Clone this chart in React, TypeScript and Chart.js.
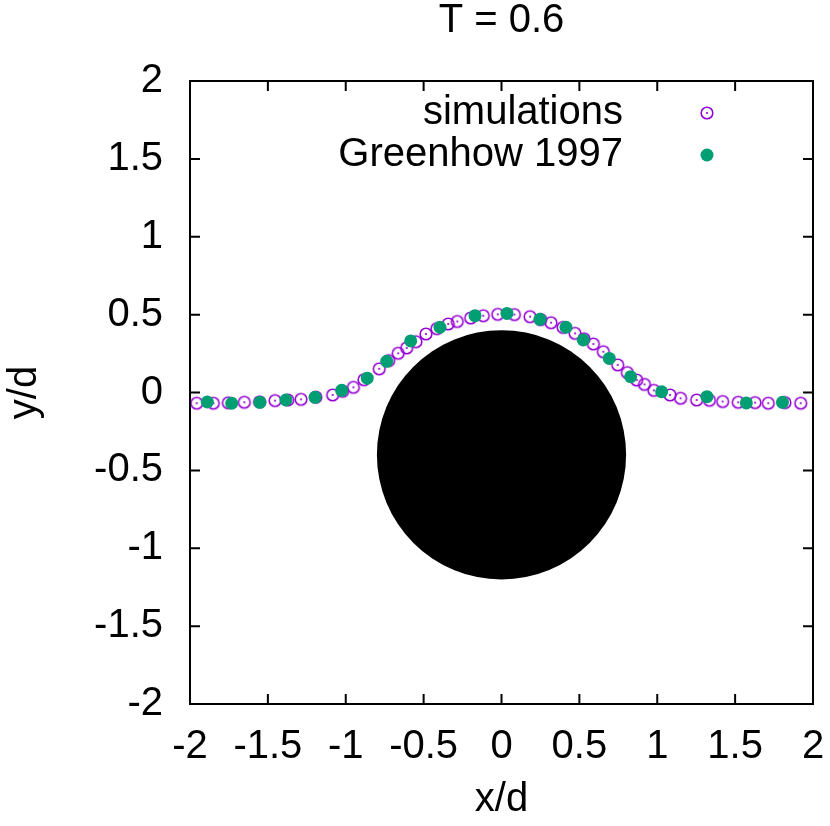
import { useEffect, useRef } from 'react';
import { Chart, registerables } from 'chart.js';

// Register Chart.js components
Chart.register(...registerables);

// Simulated interface (open circles)
const simX = [
  -1.957, -1.85, -1.754, -1.651, -1.553, -1.454, -1.372, -1.287, -1.192, -1.084,
  -1.02, -0.951, -0.883, -0.785, -0.724, -0.663, -0.609, -0.549, -0.485, -0.415,
  -0.342, -0.284, -0.198, -0.117, -0.024, 0.083, 0.183, 0.252, 0.318, 0.395,
  0.472, 0.53, 0.59, 0.654, 0.746, 0.808, 0.868, 0.918, 0.978, 1.082,
  1.15, 1.253, 1.335, 1.42, 1.52, 1.628, 1.713, 1.82, 1.921,
];
const simY = [
  -0.069, -0.069, -0.066, -0.063, -0.06, -0.052, -0.048, -0.044, -0.03, -0.016,
  0.008, 0.033, 0.082, 0.152, 0.205, 0.252, 0.286, 0.326, 0.376, 0.41,
  0.44, 0.456, 0.478, 0.493, 0.502, 0.5, 0.487, 0.468, 0.448, 0.418,
  0.38, 0.345, 0.311, 0.262, 0.177, 0.128, 0.08, 0.052, 0.014, -0.016,
  -0.037, -0.048, -0.05, -0.058, -0.063, -0.065, -0.069, -0.065, -0.069,
];

// Greenhow 1997 reference data (filled circles)
const greenhowX = [
  -1.889, -1.732, -1.551, -1.384, -1.197, -1.026, -0.862, -0.737, -0.583, -0.395,
  -0.17, 0.035, 0.247, 0.414, 0.525, 0.692, 0.829, 1.028, 1.319, 1.572, 1.804,
];
const greenhowY = [
  -0.061, -0.069, -0.063, -0.048, -0.031, 0.014, 0.092, 0.2, 0.331, 0.419,
  0.493, 0.508, 0.47, 0.419, 0.337, 0.219, 0.101, 0.005, -0.027, -0.067, -0.063,
];

// Submerged cylinder
const cylinderCenter = [0, -0.4];
const cylinderRadius = 0.8;

const axisMin = -2;
const axisMax = 2;
const tickStep = 0.5;

const plotTitle = 'T = 0.6';

const FONT = '"Liberation Sans", Arial, sans-serif';
const FONT_SIZE = 40;
const SIM_COLOR = '#9400d3';
const GREENHOW_COLOR = '#009e73';

// circle with a dot in the middle, like gnuplot's pt 6
const makeRingPoint = () => {
  const c = document.createElement('canvas');
  c.width = 16;
  c.height = 16;
  const g = c.getContext('2d');
  if (g) {
    g.strokeStyle = SIM_COLOR;
    g.lineWidth = 1.6;
    g.beginPath();
    g.arc(8, 8, 5.8, 0, Math.PI * 2);
    g.stroke();
    g.fillStyle = SIM_COLOR;
    g.beginPath();
    g.arc(8, 8, 1.1, 0, Math.PI * 2);
    g.fill();
  }
  return c;
};

const framePlugin = {
  id: 'gnuplotFrame',
  beforeDatasetsDraw(chart: any) {
    const { ctx, scales } = chart;
    const x = scales.x;
    const y = scales.y;
    const cx = x.getPixelForValue(cylinderCenter[0]);
    const cy = y.getPixelForValue(cylinderCenter[1]);
    const rx = x.getPixelForValue(cylinderCenter[0] + cylinderRadius) - cx;
    const ry = cy - y.getPixelForValue(cylinderCenter[1] + cylinderRadius);
    ctx.save();
    ctx.fillStyle = '#000';
    ctx.beginPath();
    ctx.ellipse(cx, cy, rx, ry, 0, 0, Math.PI * 2);
    ctx.fill();
    ctx.restore();
  },
  afterDraw(chart: any) {
    const { ctx, chartArea, scales } = chart;
    const { left, right, top, bottom } = chartArea;
    const len = 10;
    ctx.save();
    ctx.strokeStyle = '#000';
    ctx.lineWidth = 2;
    ctx.strokeRect(left, top, right - left, bottom - top);
    ctx.beginPath();
    scales.x.ticks.forEach((t: any) => {
      const px = scales.x.getPixelForValue(t.value);
      ctx.moveTo(px, bottom);
      ctx.lineTo(px, bottom - len);
      ctx.moveTo(px, top);
      ctx.lineTo(px, top + len);
    });
    scales.y.ticks.forEach((t: any) => {
      const py = scales.y.getPixelForValue(t.value);
      ctx.moveTo(left, py);
      ctx.lineTo(left + len, py);
      ctx.moveTo(right, py);
      ctx.lineTo(right - len, py);
    });
    ctx.stroke();

    ctx.font = `${FONT_SIZE}px ${FONT}`;
    ctx.fillStyle = '#000';
    ctx.textBaseline = 'middle';

    // title centred over the plot frame
    ctx.textAlign = 'center';
    ctx.fillText(plotTitle, (left + right) / 2, 21);

    // legend, top right inside the frame
    ctx.textAlign = 'right';
    chart.data.datasets.forEach((ds: any, i: number) => {
      const ty = top + 32 + i * 42;
      ctx.fillStyle = '#000';
      ctx.fillText(ds.label, left + 433, ty);
      const sx = left + 517;
      if (ds.pointStyle instanceof HTMLCanvasElement) {
        ctx.drawImage(ds.pointStyle, sx - 8, ty - 8);
      } else {
        ctx.fillStyle = ds.backgroundColor;
        ctx.beginPath();
        ctx.arc(sx, ty, ds.pointRadius, 0, Math.PI * 2);
        ctx.fill();
      }
    });
    ctx.restore();
  },
};

const tickFont = { family: FONT, size: FONT_SIZE };

const App = () => {
  const chartRef = useRef<HTMLCanvasElement>(null);
  const chartInstance = useRef<Chart | null>(null);

  useEffect(() => {
    if (!chartRef.current) return;
    if (chartInstance.current) {
      chartInstance.current.destroy();
    }
    const ctx = chartRef.current.getContext('2d');
    if (!ctx) return;

    const ring = makeRingPoint();

    chartInstance.current = new Chart(ctx, {
      type: 'scatter',
      data: {
        datasets: [
          {
            label: 'simulations',
            data: simX.map((v, i) => ({ x: v, y: simY[i] })),
            pointStyle: ring,
            pointRadius: 6,
            order: 2,
          },
          {
            label: 'Greenhow 1997',
            data: greenhowX.map((v, i) => ({ x: v, y: greenhowY[i] })),
            pointStyle: 'circle',
            pointRadius: 6.5,
            backgroundColor: GREENHOW_COLOR,
            borderColor: GREENHOW_COLOR,
            borderWidth: 0,
            order: 1,
          },
        ],
      },
      options: {
        responsive: false,
        animation: false,
        layout: { padding: { left: 0, right: 17, top: 81, bottom: 0 } },
        plugins: {
          legend: { display: false },
          tooltip: { enabled: false },
          title: { display: false },
        },
        scales: {
          x: {
            type: 'linear',
            min: axisMin,
            max: axisMax,
            afterFit: (scale: any) => {
              scale.height = 122;
              scale.paddingLeft = 0;
              scale.paddingRight = 0;
            },
            ticks: {
              stepSize: tickStep,
              color: '#000',
              padding: 19,
              maxRotation: 0,
              font: tickFont,
              callback: (v: any) => String(v),
            },
            grid: { display: false, drawTicks: false },
            border: { display: false },
            title: {
              display: true,
              text: 'x/d',
              color: '#000',
              font: { family: FONT, size: FONT_SIZE, lineHeight: 1 },
              padding: { top: 6, bottom: 6 },
            },
          },
          y: {
            type: 'linear',
            min: axisMin,
            max: axisMax,
            afterFit: (scale: any) => {
              scale.width = 190;
              scale.paddingTop = 0;
              scale.paddingBottom = 0;
            },
            ticks: {
              stepSize: tickStep,
              color: '#000',
              padding: 27,
              font: tickFont,
              callback: (v: any) => String(v),
            },
            grid: { display: false, drawTicks: false },
            border: { display: false },
            title: {
              display: true,
              text: 'y/d',
              color: '#000',
              font: { family: FONT, size: FONT_SIZE, lineHeight: 1 },
              padding: { top: 5, bottom: 5 },
            },
          },
        },
      },
      plugins: [framePlugin],
    });

    return () => {
      if (chartInstance.current) {
        chartInstance.current.destroy();
        chartInstance.current = null;
      }
    };
  }, []);

  return (
    <div style={{ position: 'absolute', left: 0, top: 0, width: 830, height: 826, background: '#fff' }}>
      <canvas ref={chartRef} width={830} height={826} style={{ display: 'block' }} />
    </div>
  );
};

export default App;
